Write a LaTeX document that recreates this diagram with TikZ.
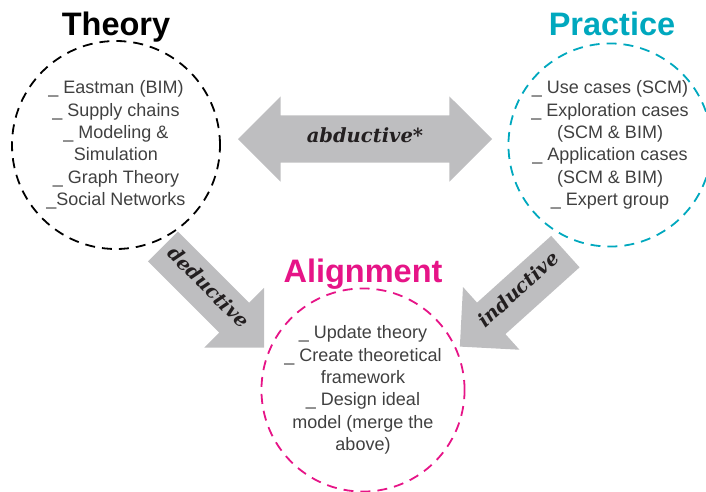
\documentclass[tikz,border=0pt]{standalone}
\usepackage{fontspec}
\setmainfont{Liberation Sans}
\newfontfamily\arrowfont{DejaVu Serif}
\usetikzlibrary{shapes.arrows}
\definecolor{cyanp}{RGB}{0,168,190}
\definecolor{pinkp}{RGB}{230,20,135}
\definecolor{arrowgray}{RGB}{190,190,192}
\definecolor{textgray}{RGB}{64,64,64}
\definecolor{arrowtext}{RGB}{35,31,32}
\begin{document}
\begin{tikzpicture}[x=1pt,y=-1pt,
  ring/.style={circle, line width=1.8pt, dash pattern=on 10pt off 7pt,
    minimum size=#1, inner sep=0pt, align=center, text=textgray,
    font=\fontsize{18}{22.4}\selectfont},
  title/.style={font=\fontsize{32.5}{34}\selectfont\bfseries, anchor=base},
  blockarrow/.style={fill=arrowgray, inner xsep=2pt, text height=11pt, text depth=4pt,
    text=arrowtext, font=\arrowfont\bfseries\itshape\fontsize{19.5}{21}\selectfont},
]
\useasboundingbox (0,0) rectangle (706,491);

% block arrows
\node[blockarrow, double arrow, inner ysep=16pt, minimum height=254,
  double arrow head extend=19] (abd) at (365,139) {abductive*};
\node[blockarrow, single arrow, inner ysep=13.5pt, minimum height=143,
  single arrow head extend=21, rotate=-45] (ded) at (206,289.5) {deductive};
\node[blockarrow, single arrow, shape border rotate=180, inner ysep=13.5pt,
  minimum height=142, single arrow head extend=21, rotate=42] (ind) at (520.5,292) {inductive};

% circles
\node[ring=208, draw=black] (theory) at (116,145)
  {\_ Eastman (BIM)\\\_ Supply chains\\\_ Modeling \&\\Simulation\\\_ Graph Theory\\\_Social Networks};
\node[ring=200, draw=cyanp] (practice) at (610,145)
  {\_ Use cases (SCM)\\\_ Exploration cases\\(SCM \& BIM)\\\_ Application cases\\(SCM \& BIM)\\\_ Expert group};
\node[ring=200, draw=pinkp] (alignment) at (363,390)
  {\_ Update theory\\\_ Create theoretical\\framework\\\_ Design ideal\\model (merge the\\above)};

% titles
\node[title, text=black] (theorytitle) at (116,35) {Theory};
\node[title, text=cyanp] (practicetitle) at (612,35) {Practice};
\node[title, text=pinkp] (alignmenttitle) at (363,282) {Alignment};
\end{tikzpicture}
\end{document}
